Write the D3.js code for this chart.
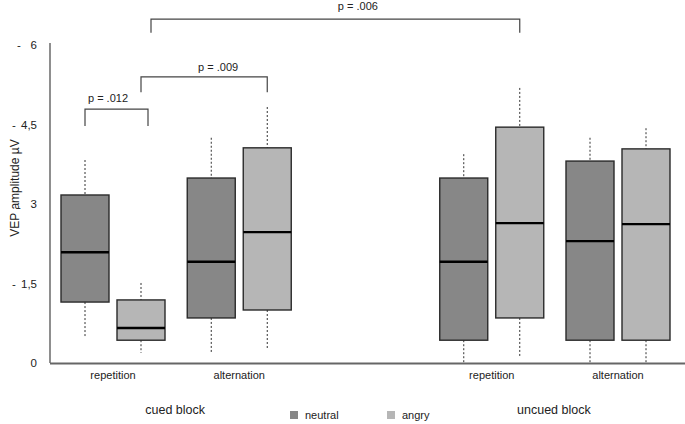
<!DOCTYPE html>
<html><head><meta charset="utf-8">
<script src="https://cdn.jsdelivr.net/npm/d3@7"></script>
<style>
html,body{margin:0;padding:0;background:#fff;}
svg{display:block;font-family:"Liberation Sans",Arial,Helvetica,sans-serif;}
</style></head>
<body><svg id="chart" width="685" height="424"></svg>
<script>
// ---- data ----
const conditions = ["repetition", "alternation", "repetition", "alternation"];
const blocks = ["cued block", "uncued block"];
const emotions = ["neutral", "angry"];
// box stats per condition: [neutral, angry]
const whiskerLow  = [[0.49, 0.19], [0.19, 0.26], [0.00, 0.11], [0.00, 0.00]];
const q1          = [[1.15, 0.43], [0.85, 1.00], [0.43, 0.85], [0.43, 0.43]];
const median      = [[2.09, 0.66], [1.91, 2.47], [1.91, 2.64], [2.30, 2.62]];
const q3          = [[3.17, 1.19], [3.49, 4.06], [3.49, 4.45], [3.81, 4.04]];
const whiskerHigh = [[3.83, 1.51], [4.25, 4.83], [3.94, 5.19], [4.25, 4.43]];
const tickValues = [0, 1.5, 3, 4.5, 6];
const tickLabels = ["0", "1,5", "3", "4,5", "6"];
// significance brackets: [condIdx, emoIdx] endpoints, bracket level and leg end (µV)
const brackets = [
  {label: "p = .012", from: [0, 0], to: [0, 1], level: 4.79, leg: 4.47},
  {label: "p = .009", from: [0, 1], to: [1, 1], level: 5.40, leg: 5.11},
  {label: "p = .006", from: [0, 1], to: [2, 1], level: 6.49, leg: 6.23}
];

// ---- layout ----
const slots = [0, 1, 3, 4];           // slot index per condition (gap between blocks)
const svg = d3.select("#chart");
const x = d3.scaleLinear().domain([0, 4]).range([113, 618]);
const y = d3.scaleLinear().domain([0, 6]).range([363, 45]);
const emoOffset = d3.scalePoint().domain(emotions).range([-28, 28]);
const boxW = 48;
const fill = d3.scaleOrdinal().domain(emotions).range(["#878787", "#b6b6b6"]);
const bracketDx = [[0, 7], [0, 0], [10, 0]];
const bracketLabelDx = [-8.5, 14, 22.5];
const bracketLabelDy = [-11, -10, -13];

const boxes = [];
conditions.forEach((c, i) => emotions.forEach((e, j) => boxes.push({
  i, j, e, cx: x(slots[i]) + emoOffset(e),
  lo: whiskerLow[i][j], q1: q1[i][j], med: median[i][j], q3: q3[i][j], hi: whiskerHigh[i][j]
})));

// axes
svg.append("line").attr("x1", 50).attr("x2", 50).attr("y1", 43).attr("y2", y(0))
  .attr("stroke", "#444").attr("stroke-width", 1.2);

const yAxis = svg.append("g").attr("transform", "translate(50,0)")
  .call(d3.axisLeft(y).tickValues(tickValues).tickFormat((d, i) => tickLabels[i]).tickSize(0).tickPadding(13));
yAxis.select(".domain").remove();
yAxis.selectAll("text").attr("font-size", 11.5).attr("fill", "#222").attr("font-family", "inherit");
const dashX = [null, 12, 17, 12, 17];
const dashDy = [0, 0, 3, 0, 0];
tickValues.forEach((v, i) => {
  if (dashX[i] == null) return;
  svg.append("text").attr("x", dashX[i]).attr("y", y(v) + dashDy[i]).attr("dy", "0.35em")
    .attr("font-size", 11.5).attr("fill", "#222").text("-");
});

svg.append("text").attr("transform", "translate(15,188) rotate(-90)")
  .attr("text-anchor", "middle").attr("dy", "0.35em").attr("font-size", 12).attr("fill", "#222")
  .text("VEP amplitude µV");

// whiskers
const g = svg.append("g");
g.selectAll(".wh").data(boxes).join("line")
  .attr("x1", d => d.cx).attr("x2", d => d.cx)
  .attr("y1", d => y(d.hi)).attr("y2", d => y(d.q3))
  .attr("stroke", "#333").attr("stroke-width", 1).attr("stroke-dasharray", "2,2");
g.selectAll(".wl").data(boxes).join("line")
  .attr("x1", d => d.cx).attr("x2", d => d.cx)
  .attr("y1", d => y(d.q1)).attr("y2", d => y(d.lo))
  .attr("stroke", "#333").attr("stroke-width", 1).attr("stroke-dasharray", "2,2");
// boxes
g.selectAll(".bx").data(boxes).join("rect")
  .attr("x", d => d.cx - boxW / 2).attr("width", boxW)
  .attr("y", d => y(d.q3)).attr("height", d => y(d.q1) - y(d.q3))
  .attr("fill", d => fill(d.e)).attr("stroke", "#2a2a2a").attr("stroke-width", 1.4);
g.selectAll(".md").data(boxes).join("line")
  .attr("x1", d => d.cx - boxW / 2).attr("x2", d => d.cx + boxW / 2)
  .attr("y1", d => y(d.med)).attr("y2", d => y(d.med))
  .attr("stroke", "#000").attr("stroke-width", 2.4);

// x axis line
svg.append("line").attr("x1", 50).attr("x2", 685).attr("y1", y(0) + 0.5).attr("y2", y(0) + 0.5)
  .attr("stroke", "#666").attr("stroke-width", 2);

// category labels
svg.selectAll(".cat").data(conditions).join("text")
  .attr("x", (d, i) => x(slots[i])).attr("y", 375).attr("dy", "0.35em")
  .attr("text-anchor", "middle").attr("font-size", 11).attr("fill", "#222").text(d => d);

// block labels
const blockX = [(x(slots[0]) + x(slots[1])) / 2 - 1, (x(slots[2]) + x(slots[3])) / 2 - 1];
svg.selectAll(".blk").data(blocks).join("text")
  .attr("x", (d, i) => blockX[i]).attr("y", 410).attr("dy", "0.35em")
  .attr("text-anchor", "middle").attr("font-size", 12.5).attr("fill", "#222").text(d => d);

// legend
const legX = [290, 387];
emotions.forEach((e, i) => {
  svg.append("rect").attr("x", legX[i]).attr("y", 411).attr("width", 8).attr("height", 8).attr("fill", fill(e));
  svg.append("text").attr("x", legX[i] + 15).attr("y", 415).attr("dy", "0.35em")
    .attr("font-size", 11).attr("fill", "#222").text(e);
});

// brackets
brackets.forEach((b, k) => {
  const x1 = x(slots[b.from[0]]) + emoOffset(emotions[b.from[1]]) + bracketDx[k][0];
  const x2 = x(slots[b.to[0]]) + emoOffset(emotions[b.to[1]]) + bracketDx[k][1];
  const yl = y(b.level), yg = y(b.leg);
  svg.append("path").attr("d", `M${x1},${yg}V${yl}H${x2}V${yg}`)
    .attr("fill", "none").attr("stroke", "#444").attr("stroke-width", 1.2);
  svg.append("text").attr("x", (x1 + x2) / 2 + bracketLabelDx[k]).attr("y", yl + bracketLabelDy[k]).attr("dy", "0.35em")
    .attr("text-anchor", "middle").attr("font-size", 11).attr("fill", "#222").text(b.label);
});
</script></body></html>
